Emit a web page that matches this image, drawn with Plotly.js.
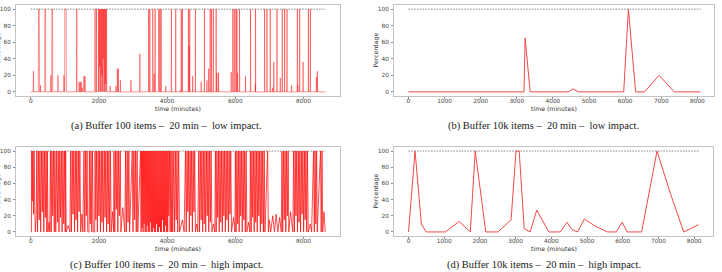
<!DOCTYPE html>
<html>
<head>
<meta charset="utf-8">
<script src="https://cdn.plot.ly/plotly-3.0.1.min.js"></script>
<style>
  html, body { margin: 0; padding: 0; background: #fff; }
  #chart { width: 722px; height: 272px; }
</style>
</head>
<body>
<div id="chart"></div>
<script>
// ---- (a) Buffer 100 items, low impact: buffer occupancy over time ----
const timeA = [
  0,
  70, 80, 90,
  222, 228, 250, 256, 280, 285, 290,
  410, 415, 435, 440,
  585, 590, 595, 615, 620, 640, 645,
  795, 800, 805,
  970, 975, 980, 995, 1000, 1040, 1045,
  1345, 1350, 1355,
  1415, 1420, 1430, 1445, 1450, 1460, 1475, 1480, 1490, 1505, 1510, 1520,
  1555, 1560, 1570, 1585, 1590, 1600,
  1875, 1880, 1895, 1900, 1925, 1930, 1935,
  1985, 1990, 2000, 2010, 2020, 2030, 2040, 2055, 2065, 2075, 2085, 2095, 2105,
  2115, 2125, 2135, 2145, 2160, 2170, 2180, 2190, 2200, 2210, 2225, 2232,
  2325, 2330, 2335,
  2495, 2500, 2505, 2535, 2540, 2550, 2565, 2570, 2575, 2625, 2630, 2635,
  2935, 2940, 2945,
  3195, 3200, 3205,
  3455, 3460, 3470, 3490, 3495, 3500,
  3575, 3580, 3590, 3615, 3620, 3625, 3645, 3650, 3655,
  3750, 3755, 3765, 3785, 3790, 3800, 3820, 3825, 3832,
  3955, 3960, 3965,
  4120, 4126, 4132,
  4248, 4253, 4258,
  4385, 4390, 4395, 4410, 4415, 4420, 4443, 4448, 4453,
  4620, 4626, 4632, 4643, 4648, 4653, 4660, 4665, 4670,
  4745, 4750, 4755,
  4826, 4831, 4836,
  4995, 5000, 5005,
  5091, 5096, 5101,
  5165, 5170, 5175, 5215, 5220, 5225,
  5258, 5263, 5268, 5295, 5300, 5305, 5350, 5355, 5361,
  5434, 5439, 5444, 5455, 5460, 5465,
  5505, 5510, 5515,
  5875, 5880, 5885,
  5924, 5929, 5934, 5965, 5970, 5975, 6015, 6020, 6025, 6042, 6047, 6052, 6060, 6065, 6070,
  6120, 6125, 6130,
  6295, 6300, 6305,
  6443, 6448, 6453,
  6585, 6590, 6594, 6595, 6600,
  6855, 6860, 6865, 6924, 6929, 6934,
  7022, 7027, 7032,
  7085, 7090, 7095, 7125, 7130, 7135,
  7218, 7223, 7228,
  7315, 7320, 7325,
  7374, 7379, 7384, 7443, 7448, 7453,
  7512, 7517, 7522,
  7645, 7650, 7655,
  7815, 7820, 7830, 7835, 7840, 7880, 7889, 7895,
  7985, 7990, 7995,
  8139, 8144, 8150, 8198, 8203, 8208,
  8375, 8380, 8385, 8405, 8410, 8415,
  8640
];
const pctA = [
  0,
  0, 25, 0,
  0, 100, 100, 0, 0, 8, 0,
  0, 100, 100, 0,
  0, 20, 0, 0, 100, 100, 0,
  0, 20, 0,
  0, 20, 0, 0, 100, 100, 0,
  0, 100, 0,
  0, 12, 0, 0, 12, 0, 0, 12, 0, 0, 5, 0,
  0, 19, 0, 0, 19, 0,
  0, 100, 100, 0, 0, 100, 0,
  0, 100, 0, 100, 30, 100, 0, 100, 0, 100, 20, 100, 0,
  100, 40, 100, 0, 100, 0, 100, 10, 100, 0, 100, 0,
  0, 7, 0,
  0, 7, 0, 0, 28, 0, 0, 28, 0, 0, 14, 0,
  0, 14, 0,
  0, 46, 0,
  0, 100, 0, 0, 100, 0,
  0, 100, 0, 0, 22, 0, 0, 100, 0,
  0, 100, 0, 0, 100, 0, 0, 100, 0,
  0, 7, 0,
  0, 100, 0,
  0, 100, 0,
  0, 2, 0, 0, 100, 0, 0, 100, 0,
  0, 100, 0, 0, 55, 0, 0, 100, 0,
  0, 19, 0,
  0, 100, 0,
  0, 12, 0,
  0, 100, 0,
  0, 14, 0, 0, 28, 0,
  0, 100, 0, 0, 100, 0, 0, 100, 0,
  0, 100, 0, 0, 23, 0,
  0, 23, 0,
  0, 24, 0,
  0, 100, 0, 0, 100, 0, 0, 100, 0, 0, 100, 0, 0, 23, 0,
  0, 100, 0,
  0, 19, 0,
  0, 100, 0,
  0, 10, 0, 100, 0,
  0, 100, 0, 0, 100, 0,
  0, 100, 0,
  0, 5, 0, 0, 36, 0,
  0, 100, 0,
  0, 17, 0,
  0, 100, 0, 0, 100, 0,
  0, 100, 0,
  0, 8, 0,
  0, 100, 0, 8, 0, 0, 100, 0,
  0, 36, 0,
  0, 100, 0, 0, 100, 0,
  0, 18, 0, 0, 25, 0,
  0
];

// ---- (b) Buffer 10k items, low impact ----
const timeB = [0, 3200, 3230, 3370, 4420, 4555, 4710, 5960, 6090, 6290, 6540, 6940, 7360, 8090];
const pctB  = [0, 0,    65,   0,    0,    3.5,  0,    0,    100,  0,    0,    20,   0,    0];

// ---- (c) Buffer 100 items, high impact ----
const timeC = [
  0, 20, 30, 45, 62, 80, 98, 118, 135,
  160, 178, 200, 225, 248, 270, 292, 318, 340, 360, 384, 405, 428, 450, 472, 488, 505,
  540, 560,
  578, 600, 622, 645, 668, 690, 710, 735, 762, 785, 808, 830, 852, 875, 898, 920, 945, 968, 990, 1012, 1025, 1040,
  1100, 1150,
  1172, 1195, 1218, 1240, 1262, 1285, 1308, 1330, 1352, 1375, 1398, 1420, 1442, 1464,
  1500, 1530,
  1562, 1585, 1608, 1630, 1652, 1672, 1710, 1722, 1745, 1768, 1790, 1812, 1835, 1875,
  1888, 1910, 1932, 1955, 1978, 2000, 2022, 2045, 2068, 2090, 2112, 2135, 2158, 2180, 2202, 2225, 2248, 2270, 2292, 2315, 2338, 2360,
  2400, 2430,
  2442, 2465, 2488, 2510, 2532, 2555, 2578, 2600, 2625, 2645,
  2700, 2760, 2782, 2805, 2830, 2855, 2878, 2900,
  2977, 3000, 3025, 3048, 3072, 3095, 3120, 3140,
  3222, 3237, 3252, 3267, 3282, 3297, 3312, 3327, 3342, 3357, 3372, 3387, 3402, 3417, 3432, 3447, 3462, 3477, 3492, 3507,
  3522, 3537, 3552, 3567, 3582, 3597, 3612, 3627, 3642, 3657, 3672, 3687, 3702, 3717, 3732, 3747, 3762, 3777, 3792, 3807,
  3822, 3837, 3852, 3867, 3882, 3897, 3912, 3927, 3942, 3957, 3972, 3987, 4002, 4017, 4032, 4050, 4070, 4090, 4110, 4130, 4148, 4165,
  4197, 4220, 4245, 4268, 4290, 4312, 4340, 4365, 4450, 4500,
  4540, 4562, 4585, 4608, 4630, 4652, 4675, 4698, 4720, 4742, 4765, 4788, 4810, 4832, 4870, 4900,
  4930, 4952, 4975, 4998, 5020, 5042, 5065, 5088, 5110, 5132, 5155, 5178, 5200, 5222, 5245, 5268, 5290, 5315, 5360, 5400,
  5418, 5440, 5462, 5485, 5508, 5530, 5552, 5575, 5598, 5620, 5642, 5665, 5688, 5710, 5732, 5755, 5778, 5800, 5822, 5845, 5868, 5890, 5950, 5990,
  6003, 6025, 6048, 6070, 6092, 6115, 6138, 6160, 6182, 6205, 6228, 6250, 6272, 6295, 6318, 6340, 6390, 6430,
  6443, 6465, 6488, 6510, 6532, 6555, 6578, 6600, 6622, 6645, 6668, 6690, 6712, 6735, 6758, 6780, 6802, 6825, 6848, 6870,
  6950, 6970, 7000, 7040, 7100, 7150, 7200, 7250, 7300, 7350,
  7370, 7392, 7415, 7438, 7460, 7482, 7505, 7528, 7550, 7570, 7620, 7690,
  7712, 7735, 7758, 7780, 7802, 7825, 7848, 7870, 7892, 7915, 7938, 7960, 7982, 8005, 8028, 8050, 8072, 8095, 8118, 8140,
  8200, 8240, 8296, 8318, 8340, 8362, 8385, 8405, 8500, 8520, 8545, 8565, 8600, 8640
];
const pctC = [
  0, 0, 100, 38, 100, 22, 100, 30, 0,
  20, 100, 0, 100, 15, 100, 0, 100, 25, 100, 0, 100, 18, 100, 0, 100, 0,
  12, 0,
  100, 0, 100, 20, 100, 0, 100, 0, 100, 12, 100, 0, 100, 18, 100, 0, 100, 10, 100, 0, 100, 0,
  8, 0,
  100, 0, 100, 22, 100, 0, 100, 15, 100, 0, 100, 25, 100, 0,
  22, 0,
  100, 0, 100, 20, 100, 0, 0, 100, 10, 100, 0, 100, 0, 0,
  100, 15, 100, 0, 100, 20, 100, 0, 100, 12, 100, 0, 100, 18, 100, 0, 100, 10, 100, 0, 100, 0,
  25, 0,
  100, 0, 100, 28, 100, 0, 100, 20, 100, 0,
  30, 0, 100, 0, 100, 12, 100, 0,
  100, 0, 100, 15, 100, 0, 100, 0,
  100, 0, 100, 5, 100, 0, 100, 10, 100, 0, 100, 0, 100, 8, 100, 0, 100, 0, 100, 12,
  100, 0, 100, 0, 100, 5, 100, 0, 100, 0, 100, 10, 100, 0, 100, 0, 100, 6, 100, 0,
  100, 0, 100, 15, 100, 0, 100, 0, 100, 8, 100, 0, 100, 0, 100, 20, 100, 0, 100, 0, 100, 0,
  100, 0, 100, 15, 100, 0, 100, 0, 15, 0,
  100, 0, 100, 25, 100, 0, 100, 20, 100, 0, 100, 25, 100, 0, 10, 0,
  100, 0, 100, 15, 100, 0, 100, 10, 100, 0, 100, 20, 100, 0, 100, 12, 100, 0, 10, 0,
  100, 0, 100, 18, 100, 0, 100, 12, 100, 0, 100, 20, 100, 0, 100, 15, 100, 0, 100, 22, 100, 0, 18, 0,
  100, 0, 100, 10, 100, 0, 100, 20, 100, 0, 100, 15, 100, 0, 100, 0, 12, 0,
  100, 0, 100, 18, 100, 0, 100, 12, 100, 0, 100, 20, 100, 0, 100, 10, 100, 0, 100, 0,
  100, 0, 15, 0, 20, 0, 22, 0, 18, 0,
  100, 0, 100, 15, 100, 0, 100, 20, 100, 0, 25, 0,
  100, 0, 100, 20, 100, 0, 100, 12, 100, 0, 100, 22, 100, 0, 100, 15, 100, 0, 100, 0,
  10, 0, 100, 0, 100, 10, 100, 0, 100, 0, 100, 0, 25, 0
];

// ---- (d) Buffer 10k items, high impact ----
const timeD = [0, 184, 359, 497, 1031, 1418, 1731, 1869, 2164, 2505, 2873, 3011, 3100, 3241, 3407, 3591,
               3932, 4254, 4438, 4576, 4733, 4926, 5239, 5571, 5820, 5985, 6123, 6529, 6960, 7339, 7707, 8122];
const pctD  = [0, 100, 10, 0, 0, 13, 0, 100, 0, 0, 15, 100, 100, 4, 0, 27,
               0, 0, 12, 3, 0, 16, 7, 0, 0, 12, 0, 0, 100, 47, 0, 9];

// capacity reference line (100 %) and axis ticks
const capacity = 100;
const ticksWide = [0, 2000, 4000, 6000, 8000];
const ticksNarrow = [0, 1000, 2000, 3000, 4000, 5000, 6000, 7000, 8000];
const ticksPct = [0, 20, 40, 60, 80, 100];

const captions = [
  '(a) Buffer 100 items \u2013\u00a0 20 min \u2013\u00a0 low impact.',
  '(b) Buffer 10k items \u2013\u00a0 20 min \u2013\u00a0 low impact.',
  '(c) Buffer 100 items \u2013\u00a0 20 min \u2013\u00a0 high impact.',
  '(d) Buffer 10k items \u2013\u00a0 20 min \u2013\u00a0 high impact.'
];
const xTitle = 'time (minutes)';
const yTitle = 'Percentage';

// ---- geometry (pixels on the 722 x 272 canvas) ----
const W = 722, H = 272;
const panels = [
  { x0: 16,  x1: 340, y0: 5,   y1: 96,  range: [-432, 9072], ticks: ticksWide,   t: timeA, p: pctA, lw: 0.75, col: 'rgba(255,20,20,0.62)' },
  { x0: 394, x1: 714, y0: 5,   y1: 96,  range: [-400, 8460], ticks: ticksNarrow, t: timeB, p: pctB, lw: 1.0,  col: '#f44848' },
  { x0: 16,  x1: 340, y0: 147, y1: 236, range: [-432, 9072], ticks: ticksWide,   t: timeC, p: pctC, lw: 0.75, col: '#ff1010' },
  { x0: 394, x1: 713, y0: 147, y1: 236, range: [-406, 8528], ticks: ticksNarrow, t: timeD, p: pctD, lw: 1.0,  col: '#f44848' }
];
const captionPos = [[166, 126], [543, 126], [166, 265], [544, 265]];

const tickFont = { family: 'DejaVu Sans', size: 5.8, color: '#444' };
const labelFont = { family: 'DejaVu Sans', size: 6.2, color: '#333' };

const traces = [];
const layout = {
  width: W, height: H,
  margin: { l: 0, r: 0, t: 0, b: 0 },
  paper_bgcolor: '#fff', plot_bgcolor: '#fff',
  showlegend: false,
  annotations: []
};

panels.forEach((pn, i) => {
  const n = i + 1;
  const xa = n === 1 ? 'x' : 'x' + n;
  const ya = n === 1 ? 'y' : 'y' + n;
  const xKey = n === 1 ? 'xaxis' : 'xaxis' + n;
  const yKey = n === 1 ? 'yaxis' : 'yaxis' + n;
  const tEnd = pn.t[pn.t.length - 1];

  traces.push({
    x: [0, tEnd], y: [capacity, capacity], xaxis: xa, yaxis: ya,
    mode: 'lines', line: { color: '#6e6e6e', width: 0.8, dash: '1.6px,1.2px' },
    hoverinfo: 'skip'
  });
  traces.push({
    x: pn.t, y: pn.p, xaxis: xa, yaxis: ya,
    mode: 'lines', line: { color: pn.col, width: pn.lw, simplify: false },
    hoverinfo: 'skip'
  });

  const common = {
    showline: true, mirror: true, linecolor: '#b4b4b4', linewidth: 0.8,
    showgrid: false, zeroline: false,
    ticks: 'outside', ticklen: 2.2, tickwidth: 0.7, tickcolor: '#555',
    tickfont: tickFont, fixedrange: true
  };
  layout[xKey] = Object.assign({}, common, {
    domain: [pn.x0 / W, pn.x1 / W], anchor: ya,
    range: pn.range, tickmode: 'array', tickvals: pn.ticks, ticklabelstandoff: -3
  });
  layout[yKey] = Object.assign({}, common, {
    domain: [1 - pn.y1 / H, 1 - pn.y0 / H], anchor: xa,
    range: [-5, 105], tickmode: 'array', tickvals: ticksPct, ticklabelstandoff: 1
  });

  // axis titles
  layout.annotations.push({
    xref: 'paper', yref: 'paper',
    x: ((pn.x0 + pn.x1) / 2) / W, y: 1 - (pn.y1 + 12.5) / H,
    xanchor: 'center', yanchor: 'middle', showarrow: false,
    text: xTitle, font: labelFont
  });
  layout.annotations.push({
    xref: 'paper', yref: 'paper',
    x: (pn.x0 - 19) / W, y: 1 - ((pn.y0 + pn.y1) / 2) / H,
    xanchor: 'center', yanchor: 'middle', showarrow: false, textangle: -90,
    text: yTitle, font: labelFont
  });
  // panel caption
  layout.annotations.push({
    xref: 'paper', yref: 'paper',
    x: captionPos[i][0] / W, y: 1 - captionPos[i][1] / H,
    xanchor: 'center', yanchor: 'middle', showarrow: false,
    text: captions[i], font: { family: 'Liberation Serif', size: 10.5, color: '#1a1a1a' }
  });
});

Plotly.newPlot('chart', traces, layout, { staticPlot: true, displayModeBar: false });
</script>
</body>
</html>
